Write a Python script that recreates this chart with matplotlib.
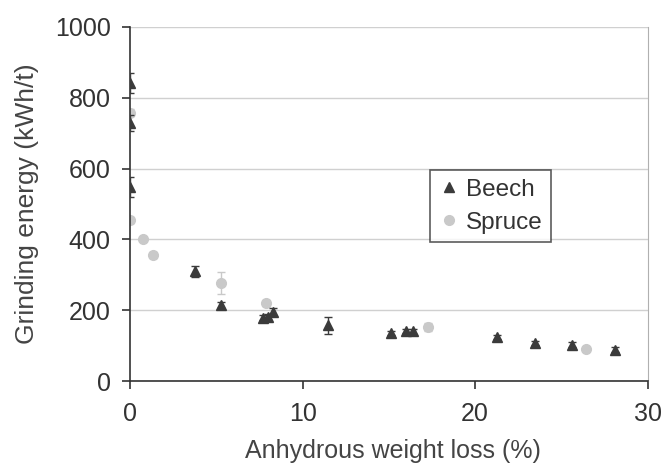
import matplotlib.pyplot as plt

plt.rcParams['font.family'] = ['Liberation Sans', 'DejaVu Sans']

# Beech : perte de masse (%) / énergie de broyage (kWh/t)
beech_x = [0, 0, 0, 3.75, 5.25, 7.7, 8.0, 8.3, 11.5, 15.1, 16.0, 16.4, 21.25, 23.45, 25.6, 28.1]
beech_y = [842, 729, 548, 310, 215, 179, 180, 195, 157, 136, 141, 140, 124, 107, 103, 89]
beech_err = [28, 22, 28, 15, 8, 8, 8, 10, 25, 6, 6, 6, 6, 6, 6, 6]

# Spruce
spruce_x = [0, 0, 0.75, 1.33, 5.25, 7.9, 17.25, 26.4]
spruce_y = [757, 455, 401, 355, 277, 220, 153, 90]
spruce_err = [10, 8, 6, 8, 30, 8, 12, 5]

fig = plt.figure(figsize=(6.65, 4.63), dpi=100)
ax = fig.add_axes([0.1955, 0.177, 0.7785, 0.765])

ax.errorbar(beech_x, beech_y, yerr=beech_err, fmt='^', color='#3b3b3b', ms=7,
            ecolor='#3b3b3b', elinewidth=1, capsize=3, label='Beech', zorder=3)
ax.errorbar(spruce_x, spruce_y, yerr=spruce_err, fmt='o', color='#c9c9c9', ms=7,
            ecolor='#c9c9c9', elinewidth=1, capsize=3, label='Spruce', zorder=2)

ax.set_xlim(0, 30)
ax.set_ylim(0, 1000)
ax.set_xticks([0, 10, 20, 30])
ax.set_yticks(range(0, 1001, 200))
ax.yaxis.grid(True, color='#d0d0d0', lw=1)
ax.set_axisbelow(True)

for s in ['left', 'bottom']:
    ax.spines[s].set_color('#333333')
    ax.spines[s].set_linewidth(1.2)
ax.spines['right'].set_color('#b0b0b0')
ax.spines['top'].set_visible(False)

ax.tick_params(axis='both', labelsize=18, colors='#333333', length=6, width=1.2)
ax.tick_params(axis='x', pad=9)
ax.tick_params(axis='y', pad=8)

ax.set_xlabel('Anhydrous weight loss (%)', fontsize=18, color='#444444')
ax.xaxis.set_label_coords(0.508, -0.163, transform=ax.transAxes)
ax.xaxis.label.set_va('top')
ax.set_ylabel('Grinding energy (kWh/t)', fontsize=19, color='#444444', labelpad=11)

handles, labels = ax.get_legend_handles_labels()
handles = [h[0] for h in handles]
leg = ax.legend(handles, labels, loc='upper left', bbox_to_anchor=(0.58, 0.595),
                fontsize=17.5, frameon=True, fancybox=False, handletextpad=0.3,
                handlelength=0.8, borderpad=0.35, labelspacing=0.45, borderaxespad=0)
leg.get_frame().set_edgecolor('#333333')
leg.get_frame().set_linewidth(1.2)
for t in leg.get_texts():
    t.set_color('#333333')

fig.savefig('out.png', dpi=100)
